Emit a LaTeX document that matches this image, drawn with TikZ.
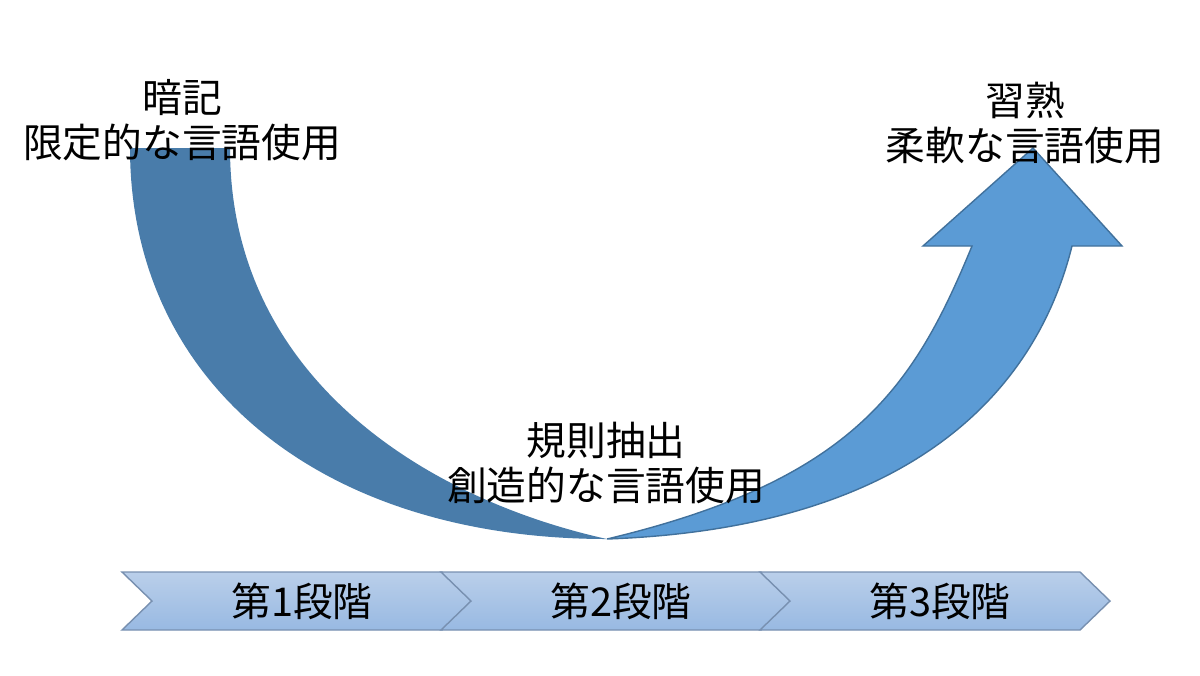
\documentclass[tikz,border=0pt]{standalone}
\usepackage{fontspec}
\setmainfont{Noto Sans CJK JP}
\definecolor{backband}{HTML}{497CAA}
\definecolor{frontband}{HTML}{5B9BD5}
\definecolor{bandline}{HTML}{41719C}
\definecolor{chevtop}{HTML}{BACFEA}
\definecolor{chevbot}{HTML}{98B9E2}
\definecolor{chevline}{HTML}{7890B0}

\tikzset{
  stagelabel/.style={font=\fontsize{11.3}{12.8}\selectfont, align=center, inner sep=0pt},
  chevron/.style={top color=chevtop, bottom color=chevbot, draw=chevline, line width=0.4pt},
}

\begin{document}
\begin{tikzpicture}[x=0.01cm,y=-0.01cm]
  \useasboundingbox (0,0) rectangle (1200,675);

  % back half of the U
  \fill[backband] (130,148) .. controls (130,383) and (321,539) .. (607,539)
    .. controls (430,500) and (230,380) .. (230,148) -- cycle;

  % front half with the head
  \draw[fill=frontband, draw=bandline, line width=0.4pt]
    (607,539) .. controls (971,526) and (1050,334) .. (1072,246)
    -- (1122,246) -- (1033,148) -- (923,246) -- (972,246)
    .. controls (914,387) and (854,480) .. (607,539) -- cycle;

  % stages
  \foreach \i/\x in {1/122,2/441,3/760} {
    \draw[chevron] (\x,572) -- ++(320,0) -- ++(30,29) -- ++(-30,29) -- ++(-320,0) -- ++(30,-29) -- cycle;
    \node[stagelabel] (stage\i) at (\x+180,601) {第\i 段階};
  }

  \node[stagelabel] (rote) at (182,120) {暗記\\限定的な言語使用};
  \node[stagelabel] (rule) at (606,463) {規則抽出\\創造的な言語使用};
  \node[stagelabel] (fluent) at (1025,123) {習熟\\柔軟な言語使用};
\end{tikzpicture}
\end{document}
